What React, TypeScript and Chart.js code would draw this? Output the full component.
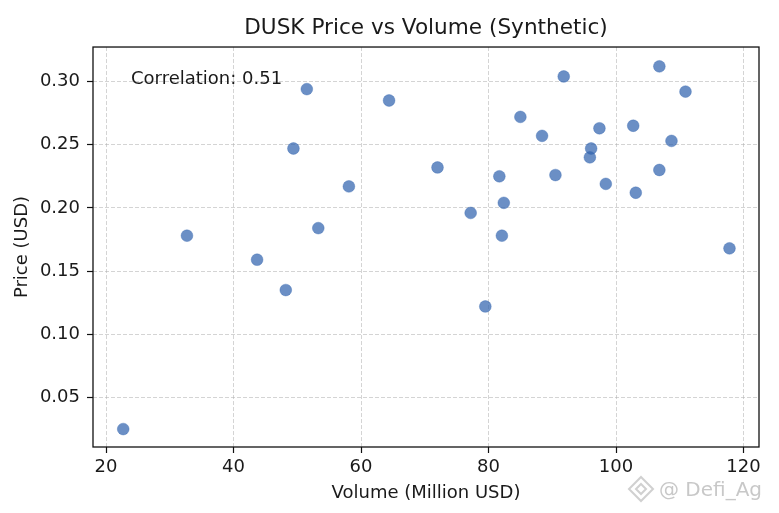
import React, { useEffect, useRef } from "react";
import { Chart, registerables } from "chart.js";

Chart.register(...registerables);

// ---- data ----
const volumes = [
  51.5, 64.4, 49.4, 58.1, 53.3, 32.7, 43.7, 48.2, 22.7, 72.0,
  91.8, 106.8, 110.9, 85.0, 88.4, 97.4, 102.7, 108.7, 96.1, 95.9,
  81.7, 90.5, 106.8, 98.4, 103.1, 77.2, 82.4, 82.1, 117.8, 79.5,
];
const prices = [
  0.294, 0.285, 0.247, 0.217, 0.184, 0.178, 0.159, 0.135, 0.025, 0.232,
  0.304, 0.312, 0.292, 0.272, 0.257, 0.263, 0.265, 0.253, 0.247, 0.24,
  0.225, 0.226, 0.23, 0.219, 0.212, 0.196, 0.204, 0.178, 0.168, 0.122,
];
const xTicks = [20, 40, 60, 80, 100, 120];
const yTicks = [0.05, 0.1, 0.15, 0.2, 0.25, 0.3];
const xRange = [17.96, 122.43];
const yRange = [0.0108, 0.3273];

const TITLE = "DUSK Price vs Volume (Synthetic)";
const X_LABEL = "Volume (Million USD)";
const Y_LABEL = "Price (USD)";
const CORR_TEXT = "Correlation: 0.51";
const WATERMARK = "@ Defi_Ag";

const FONT = "'DejaVu Sans', 'Liberation Sans', sans-serif";
const TEXT = "#1a1a1a";
const GRID = "rgba(176,176,176,0.55)";
const POINT = "rgba(50,100,175,0.72)";

export default function App() {
  const ref = useRef<HTMLCanvasElement | null>(null);

  useEffect(() => {
    document.body.style.margin = "0";
    const canvas = ref.current;
    if (!canvas) return;

    const overlay = {
      id: "overlay",
      afterDatasetsDraw(chart: any) {
        const { ctx, chartArea } = chart;
        ctx.save();
        ctx.strokeStyle = "#111";
        ctx.lineWidth = 1.3;
        ctx.strokeRect(
          chartArea.left,
          chartArea.top,
          chartArea.right - chartArea.left,
          chartArea.bottom - chartArea.top
        );
        ctx.restore();
      },
      afterDraw(chart: any) {
        const { ctx, chartArea } = chart;
        ctx.save();
        ctx.font = `18px ${FONT}`;
        ctx.fillStyle = TEXT;
        ctx.textAlign = "left";
        ctx.textBaseline = "alphabetic";
        ctx.fillText(CORR_TEXT, chartArea.left + 38, chartArea.top + 37);

        ctx.font = `20px ${FONT}`;
        ctx.fillStyle = "rgba(190,190,190,0.85)";
        ctx.fillText(WATERMARK, 659, 496);
        // small diamond logo mark
        ctx.strokeStyle = "rgba(200,200,200,0.85)";
        ctx.lineWidth = 2;
        ctx.beginPath();
        ctx.moveTo(641, 477);
        ctx.lineTo(653, 489);
        ctx.lineTo(641, 501);
        ctx.lineTo(629, 489);
        ctx.closePath();
        ctx.stroke();
        ctx.beginPath();
        ctx.moveTo(641, 484);
        ctx.lineTo(646, 489);
        ctx.lineTo(641, 494);
        ctx.lineTo(636, 489);
        ctx.closePath();
        ctx.stroke();
        ctx.restore();
      },
    };

    const chart = new Chart(canvas, {
      type: "scatter",
      data: {
        datasets: [
          {
            label: "DUSK",
            data: volumes.map((v, i) => ({ x: v, y: prices[i] })),
            backgroundColor: POINT,
            borderColor: POINT,
            borderWidth: 0.5,
            pointRadius: 5.9,
            pointHoverRadius: 5.9,
          },
        ],
      },
      options: {
        animation: false,
        responsive: false,
        devicePixelRatio: 1,
        layout: { padding: { left: 0, right: 20, top: 0, bottom: 0 } },
        plugins: {
          legend: { display: false },
          tooltip: { enabled: false },
          title: {
            display: true,
            text: TITLE,
            fullSize: false,
            color: TEXT,
            font: { family: FONT, size: 21.6, weight: "normal" },
            padding: { top: 15.4, bottom: 5.7 },
          },
        },
        scales: {
          x: {
            type: "linear",
            min: xRange[0],
            max: xRange[1],
            afterBuildTicks: (s: any) => {
              s.ticks = xTicks.map((v) => ({ value: v }));
            },
            afterFit: (s: any) => {
              s.height = 66;
            },
            ticks: {
              color: TEXT,
              font: { family: FONT, size: 18 },
              padding: 3.7,
              maxRotation: 0,
              callback: (v: any) => String(v),
            },
            grid: {
              color: GRID,
              lineWidth: 1,
              tickLength: 6,
              tickColor: "#111",
              tickWidth: 1.2,
              tickBorderDash: [],
            },
            border: { display: false, dash: [4, 2] },
            title: {
              display: true,
              text: X_LABEL,
              color: TEXT,
              font: { family: FONT, size: 18 },
              padding: { top: 9, bottom: 9 },
            },
          },
          y: {
            type: "linear",
            min: yRange[0],
            max: yRange[1],
            afterBuildTicks: (s: any) => {
              s.ticks = yTicks.map((v) => ({ value: v }));
            },
            afterFit: (s: any) => {
              s.width = 93;
            },
            ticks: {
              color: TEXT,
              font: { family: FONT, size: 18 },
              padding: 7,
              callback: (v: any) => Number(v).toFixed(2),
            },
            grid: {
              color: GRID,
              lineWidth: 1,
              tickLength: 6,
              tickColor: "#111",
              tickWidth: 1.2,
              tickBorderDash: [],
            },
            border: { display: false, dash: [4, 2] },
            title: {
              display: true,
              text: Y_LABEL,
              color: TEXT,
              font: { family: FONT, size: 18 },
              padding: { top: 12, bottom: 10 },
            },
          },
        },
      },
      plugins: [overlay],
    });

    return () => {
      chart.destroy();
    };
  }, []);

  return (
    <div style={{ position: "absolute", left: 0, top: 0, width: 779, height: 513, background: "#fff" }}>
      <canvas ref={ref} width={779} height={513} />
    </div>
  );
}
